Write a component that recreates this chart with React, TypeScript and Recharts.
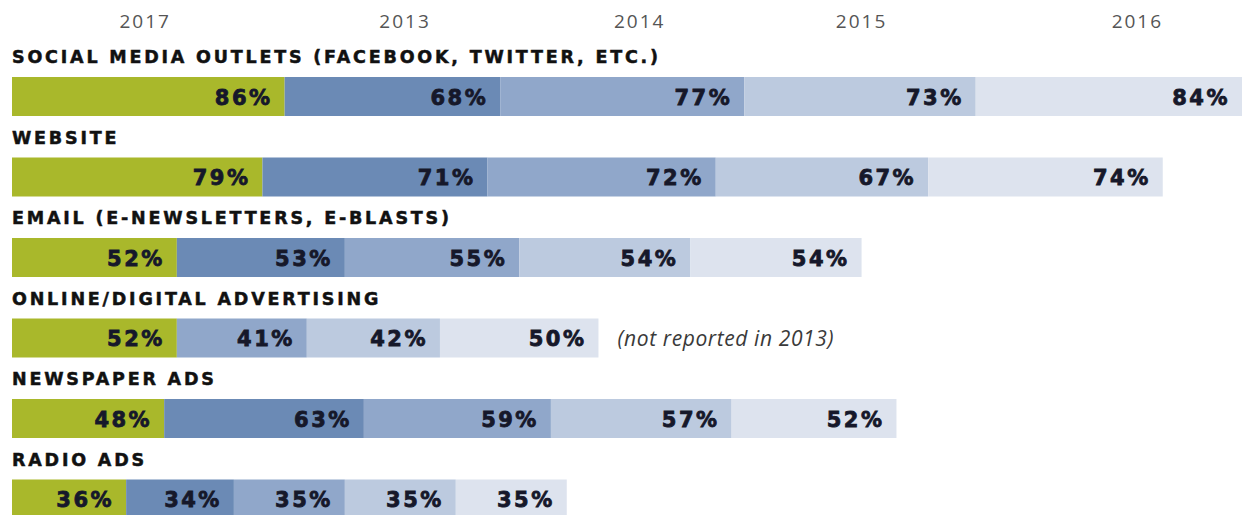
import React from "react";
import { BarChart, Bar, XAxis, YAxis, LabelList } from "recharts";

const categories = [
  "SOCIAL MEDIA OUTLETS (FACEBOOK, TWITTER, ETC.)",
  "WEBSITE",
  "EMAIL (E-NEWSLETTERS, E-BLASTS)",
  "ONLINE/DIGITAL ADVERTISING",
  "NEWSPAPER ADS",
  "RADIO ADS",
];
const v2017 = [86, 79, 52, 52, 48, 36];
const v2013: (number | null)[] = [68, 71, 53, null, 63, 34];
const v2014 = [77, 72, 55, 41, 59, 35];
const v2015 = [73, 67, 54, 42, 57, 35];
const v2016 = [84, 74, 54, 50, 52, 35];
const notes = ["", "", "", "(not reported in 2013)", "", ""];

const yearLabels = ["2017", "2013", "2014", "2015", "2016"];
const yearTickValues = [42, 124, 198, 268, 355];

const seriesKeys = ["y2017", "y2013", "y2014", "y2015", "y2016"];
const seriesColors = ["#a9b82b", "#6b8ab5", "#90a7ca", "#bccadf", "#dde3ee"];

const data = categories.map((name, i) => ({
  name,
  y2017: v2017[i],
  y2013: v2013[i],
  y2014: v2014[i],
  y2015: v2015[i],
  y2016: v2016[i],
  note: notes[i],
}));

const ValueLabel = (props: any) => {
  const { x, y, width, height, value } = props;
  if (value == null) return null;
  return (
    <text
      x={x + width - 12}
      y={y + height / 2 + 8}
      textAnchor="end"
      fontFamily="DejaVu Sans"
      fontWeight="bold"
      fontSize={21}
      letterSpacing={2.5}
      fill="#16182a"
      stroke="#16182a"
      strokeWidth={0.8}
    >
      {value}%
    </text>
  );
};

const CategoryLabel = (props: any) => {
  const { x, y, value } = props;
  return (
    <text
      x={x}
      y={y - 14}
      textAnchor="start"
      fontFamily="DejaVu Sans"
      fontWeight="bold"
      fontSize={17.5}
      letterSpacing={2.8}
      fill="#111111"
      stroke="#111111"
      strokeWidth={0.5}
    >
      {value}
    </text>
  );
};

const NoteLabel = (props: any) => {
  const { x, y, width, height, value } = props;
  if (!value) return null;
  return (
    <text
      x={x + width + 19}
      y={y + height / 2 + 8}
      textAnchor="start"
      fontFamily="Open Sans"
      fontStyle="italic"
      fontSize={21}
      letterSpacing={0.6}
      fill="#3a3a3a"
    >
      {value}
    </text>
  );
};

export default function App() {
  return (
    <div
      style={{
        position: "absolute",
        left: 0,
        top: 0,
        width: 1250,
        height: 515,
        overflow: "hidden",
        background: "#ffffff",
      }}
    >
      <BarChart
        width={1250}
        height={545}
        data={data}
        layout="vertical"
        margin={{ top: 26, right: 8, bottom: 6, left: 12 }}
        barCategoryGap={0}
      >
        <XAxis
          type="number"
          orientation="top"
          domain={[0, 388]}
          ticks={yearTickValues}
          tickFormatter={(v: number) => yearLabels[yearTickValues.indexOf(v)]}
          axisLine={false}
          tickLine={false}
          tickSize={0}
          tickMargin={28}
          height={30}
          tick={{ fontFamily: "Open Sans", fontSize: 19, fill: "#555555", letterSpacing: 2 } as any}
          interval={0}
        />
        <YAxis type="category" dataKey="name" hide width={0} />
        {seriesKeys.map((k, i) => (
          <Bar
            key={k}
            dataKey={k}
            stackId="a"
            fill={seriesColors[i]}
            barSize={39}
            isAnimationActive={false}
          >
            <LabelList dataKey={k} content={ValueLabel} />
            {i === 0 ? <LabelList dataKey="name" content={CategoryLabel} /> : null}
            {i === seriesKeys.length - 1 ? <LabelList dataKey="note" content={NoteLabel} /> : null}
          </Bar>
        ))}
      </BarChart>
    </div>
  );
}
